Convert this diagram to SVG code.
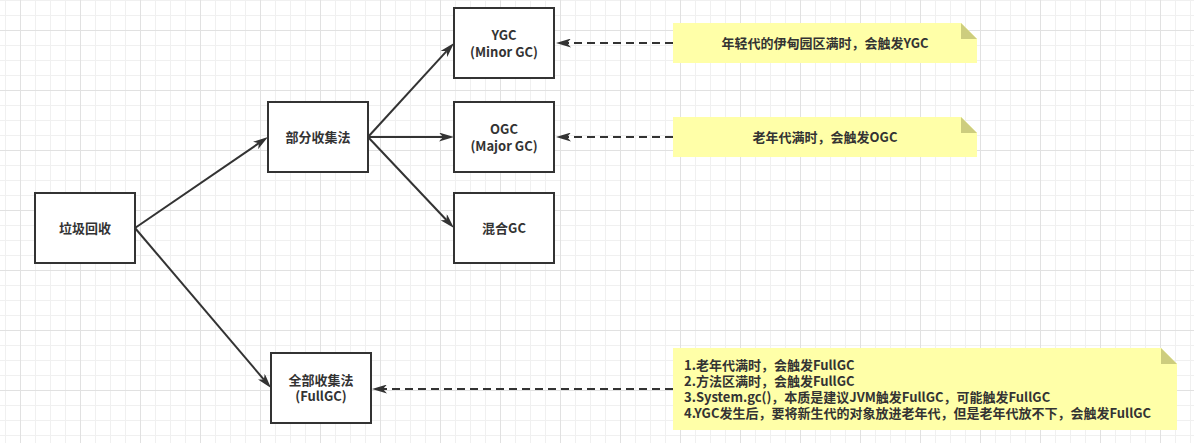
<svg xmlns="http://www.w3.org/2000/svg" width="1194" height="443" viewBox="0 0 1194 443">
<style>
.box{fill:#ffffff;stroke:#333333;stroke-width:2}
.note{fill:#ffffa8}
.fold{fill:#cdcd7e}
.t{font-family:"Microsoft YaHei","Noto Sans CJK SC","Noto Sans",sans-serif;font-size:13px;font-weight:bold;fill:#333333}
.c{text-anchor:middle}
.edge{fill:none;stroke:#333333;stroke-width:2}
.dash{stroke-dasharray:8 5}
</style>
<defs>
<pattern id="grid" patternUnits="userSpaceOnUse" x="20" y="30" width="60" height="60">
<rect x="0" y="0" width="60" height="60" fill="#ffffff"/>
<rect x="15" y="0" width="1" height="60" fill="#f0f0f0"/>
<rect x="30" y="0" width="1" height="60" fill="#f0f0f0"/>
<rect x="45" y="0" width="1" height="60" fill="#f0f0f0"/>
<rect x="0" y="15" width="60" height="1" fill="#f0f0f0"/>
<rect x="0" y="30" width="60" height="1" fill="#f0f0f0"/>
<rect x="0" y="45" width="60" height="1" fill="#f0f0f0"/>
<rect x="0" y="0" width="1" height="60" fill="#e1e1e1"/>
<rect x="0" y="0" width="60" height="1" fill="#e1e1e1"/>
</pattern>
<marker id="arr" markerUnits="userSpaceOnUse" viewBox="0 0 15 9" refX="4" refY="4.5" markerWidth="15" markerHeight="9" orient="auto">
<path d="M0,0 L15,4.5 L0,9 L4,4.5 Z" fill="#333333"/>
</marker>
</defs>
<rect x="0" y="0" width="1194" height="443" fill="url(#grid)"/>

<g id="connectors">
<path class="edge" d="M135,228 L258.9,143.2" marker-end="url(#arr)"/>
<path class="edge" d="M135,228 L263.9,379.6" marker-end="url(#arr)"/>
<path class="edge" d="M368,137 L446.6,51.1" marker-end="url(#arr)"/>
<path class="edge" d="M368,137 L443,137" marker-end="url(#arr)"/>
<path class="edge" d="M368,137 L446.4,220" marker-end="url(#arr)"/>
<path class="edge dash" d="M673,43 L567,43" marker-end="url(#arr)"/>
<path class="edge dash" d="M673,137 L567,137" marker-end="url(#arr)"/>
<path class="edge dash" d="M673,389 L383,389" marker-end="url(#arr)"/>
</g>

<g id="node-gc">
<rect class="box" x="35" y="193" width="100" height="70"/>
<text class="t c" x="85" y="232.5">垃圾回收</text>
</g>
<g id="node-partial">
<rect class="box" x="268" y="102" width="100" height="70"/>
<text class="t c" x="318" y="141.5">部分收集法</text>
</g>
<g id="node-ygc">
<rect class="box" x="454" y="8" width="100" height="70"/>
<text class="t c" x="504" y="39.5">YGC</text>
<text class="t c" x="504" y="56.5">(Minor GC)</text>
</g>
<g id="node-ogc">
<rect class="box" x="454" y="102" width="100" height="70"/>
<text class="t c" x="504" y="133.5">OGC</text>
<text class="t c" x="504" y="150.5">(Major GC)</text>
</g>
<g id="node-mixed">
<rect class="box" x="454" y="193" width="100" height="70"/>
<text class="t c" x="504" y="232.5">混合GC</text>
</g>
<g id="node-full">
<rect class="box" x="271" y="353" width="100" height="70"/>
<text class="t c" x="321" y="384.5">全部收集法</text>
<text class="t c" x="321" y="401">(FullGC)</text>
</g>

<g id="note-ygc">
<path class="note" d="M673,23 L961,23 L977,39 L977,63 L673,63 Z"/>
<path class="fold" d="M961,23 L977,39 L961,39 Z"/>
<text class="t c" x="825" y="48">年轻代的伊甸园区满时，会触发YGC</text>
</g>
<g id="note-ogc">
<path class="note" d="M673,117 L961,117 L977,133 L977,157 L673,157 Z"/>
<path class="fold" d="M961,117 L977,133 L961,133 Z"/>
<text class="t c" x="825" y="142">老年代满时，会触发OGC</text>
</g>
<g id="note-full">
<path class="note" d="M673,348 L1161,348 L1177,364 L1177,430 L673,430 Z"/>
<path class="fold" d="M1161,348 L1177,364 L1161,364 Z"/>
<text class="t" x="684" y="369.5">1.老年代满时，会触发FullGC</text>
<text class="t" x="684" y="385.5">2.方法区满时，会触发FullGC</text>
<text class="t" x="684" y="401.5">3.System.gc()，本质是建议JVM触发FullGC，可能触发FullGC</text>
<text class="t" x="684" y="417.5">4.YGC发生后，要将新生代的对象放进老年代，但是老年代放不下，会触发FullGC</text>
</g>
</svg>
